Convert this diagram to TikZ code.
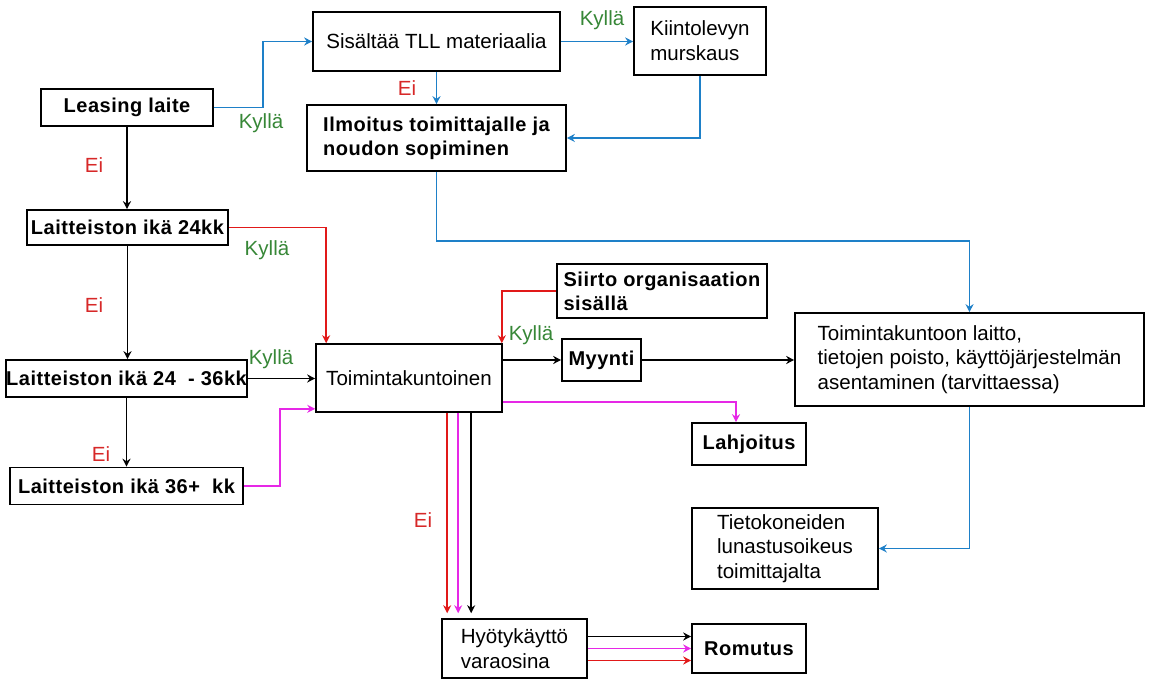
\documentclass[tikz,border=0pt]{standalone}
\usepackage{fontspec}
\setmainfont{Liberation Sans}
\newfontfamily\wideboldfont{Liberation Sans}[LetterSpace=2.5]
\usetikzlibrary{arrows.meta,calc}

\definecolor{flowblue}{RGB}{30,128,200}
\definecolor{flowred}{RGB}{225,25,25}
\definecolor{flowpink}{RGB}{230,40,230}
\definecolor{yesgreen}{RGB}{55,135,55}
\definecolor{nored}{RGB}{215,40,40}

\tikzset{every picture/.style={line width=0.75pt}}
\tikzset{
  wh/.style 2 args={minimum width=#1*0.75pt, minimum height=#2*0.75pt},
  box/.style={draw, line width=1.2pt, inner sep=0pt, align=left, font=\fontsize{15.4}{18.5}\selectfont},
  boldbox/.style={box, font=\fontsize{15}{18}\wideboldfont\bfseries},
  flow/.style={line width=1.2pt, -{Stealth[length=6pt,width=6pt]}},
  yes/.style={text=yesgreen, inner sep=0.75pt, font=\fontsize{15.4}{18}\selectfont},
  no/.style={text=nored, inner sep=0.75pt, font=\fontsize{15.4}{18}\selectfont},
}

\begin{document}
\begin{tikzpicture}[x=0.75pt,y=0.75pt,yscale=-1,xscale=1]
%set diagram left start at 0, and has height of 680
\useasboundingbox (0,0) rectangle (1150,680);

%Shape: Rectangle
\node[boldbox, wh={172}{37}] (leasing) at (127,107.5) {Leasing laite};
%Shape: Rectangle
\node[box, wh={247}{59}] (tll) at (436.5,41.5) {Sisältää TLL materiaalia};
%Shape: Rectangle
\node[box, wh={132}{68}] (kiinto) at (700,41) {Kiintolevyn\\murskaus};
%Shape: Rectangle
\node[boldbox, wh={259}{66}] (ilmoitus) at (436.5,138) {Ilmoitus toimittajalle ja\\noudon sopiminen};
%Shape: Rectangle
\node[boldbox, wh={201}{35}] (ika24) at (127.5,227.5) {Laitteiston ikä 24kk};
%Shape: Rectangle
\node[boldbox, wh={233}{37}] (ika2436) at (126.5,378.5) {Laitteiston ikä 24~ - 36kk};
%Shape: Rectangle
\node[boldbox, wh={233}{37}] (ika36) at (126.5,486) {Laitteiston ikä 36+~ kk};
%Shape: Rectangle
\node[box, wh={186}{68}] (toiminta) at (409,378) {Toimintakuntoinen};
%Shape: Rectangle
\node[boldbox, wh={210}{54}] (siirto) at (662,291) {Siirto organisaation\\sisällä};
%Shape: Rectangle
\node[boldbox, wh={79}{42}] (myynti) at (601.5,360) {Myynti};
%Shape: Rectangle
\node[box, wh={349}{93}] (kuntoon) at (969.5,359.5) {Toimintakuntoon laitto,\\tietojen poisto, käyttöjärjestelmän\\asentaminen (tarvittaessa)};
%Shape: Rectangle
\node[boldbox, wh={114}{42}] (lahjoitus) at (749,444) {Lahjoitus};
%Shape: Rectangle
\node[box, wh={186}{81}] (lunastus) at (785,548.5) {Tietokoneiden\\lunastusoikeus\\toimittajalta};
%Shape: Rectangle
\node[box, wh={145}{59}] (hyoty) at (514.5,648.5) {Hyötykäyttö\\varaosina};
%Shape: Rectangle
\node[boldbox, wh={114}{49}] (romutus) at (749,648.5) {Romutus};

%Straight Lines
\draw[flow, flowblue] (leasing.east) -- ++(49,0) |- (tll.west);
\draw[flow, flowblue] (tll.east) -- (kiinto.west |- tll.east);
\draw[flow, flowblue] (tll.south) -- (ilmoitus.north);
\draw[flow, flowblue] (kiinto.south) |- (ilmoitus.east);
\draw[flow, flowblue] (ilmoitus.south) -- ++(0,69) -| (kuntoon.north);
\draw[flow, flowblue] (kuntoon.south) |- (lunastus.east);
%Straight Lines
\draw[flow] (leasing.south) -- (leasing.south |- ika24.north);
\draw[flow] (ika24.south) -- (ika24.south |- ika2436.north);
\draw[flow] (ika2436.south) -- (ika36.north);
\draw[flow] (ika2436.east) -- (toiminta.west |- ika2436.east);
\draw[flow] (toiminta.east |- myynti.west) -- (myynti.west);
\draw[flow] (myynti.east) -- (kuntoon.west |- myynti.east);
%Straight Lines
\draw[flow, flowred] (ika24.east) -| ($(toiminta.north west)+(11,0)$);
\draw[flow, flowred] (siirto.west) -| ($(toiminta.north east)+(-1,0)$);
\draw[flow, flowpink] (ika36.east) -- ++(36,0) |- ($(toiminta.south west)+(0,-4)$);
\draw[flow, flowpink] ($(toiminta.south east)+(0,-11)$) -| ($(lahjoitus.north)+(-13,0)$);
%Straight Lines
\draw[flow, flowred] ($(toiminta.south west)+(132,0)$) -- ($(hyoty.north west)+(6,-5)$);
\draw[flow, flowpink] ($(toiminta.south west)+(143,0)$) -- ($(hyoty.north west)+(17,-5)$);
\draw[flow] ($(toiminta.south west)+(156,0)$) -- ($(hyoty.north west)+(30,-5)$);
\draw[flow] ($(hyoty.east)+(0,-12)$) -- ($(romutus.west)+(0,-12)$);
\draw[flow, flowpink] (hyoty.east) -- (romutus.west);
\draw[flow, flowred] ($(hyoty.east)+(0,12)$) -- ($(romutus.west)+(0,12)$);

% Text Node
\node[yes] (kylla1) at (261,123) {Kyllä};
% Text Node
\node[no] (ei1) at (407,88) {Ei};
% Text Node
\node[yes] (kylla2) at (602,20) {Kyllä};
% Text Node
\node[no] (ei2) at (94,165) {Ei};
% Text Node
\node[yes] (kylla3) at (267,250) {Kyllä};
% Text Node
\node[no] (ei3) at (94,305) {Ei};
% Text Node
\node[yes] (kylla4) at (271,359) {Kyllä};
% Text Node
\node[no] (ei4) at (101,454) {Ei};
% Text Node
\node[yes] (kylla5) at (531,335) {Kyllä};
% Text Node
\node[no] (ei5) at (423,520) {Ei};

\end{tikzpicture}
\end{document}
